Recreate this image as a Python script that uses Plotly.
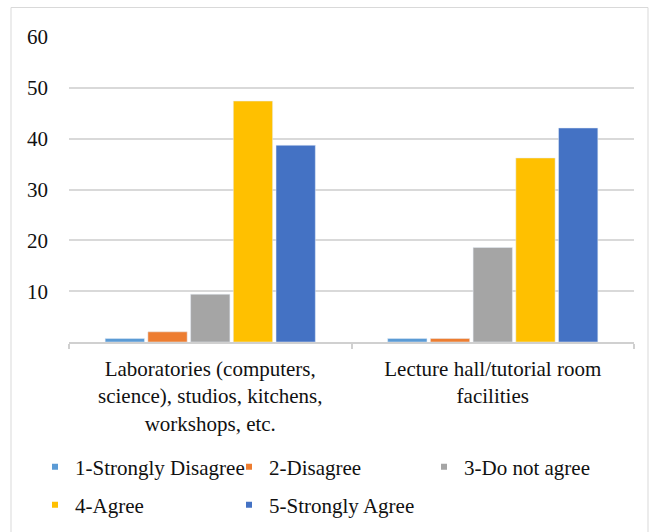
import plotly.graph_objects as go

# Survey responses (%) by facility type
categories = [
    "Laboratories (computers,<br>science), studios, kitchens,<br>workshops, etc.",
    "Lecture hall/tutorial room<br>facilities",
]
series_names = ["1-Strongly Disagree", "2-Disagree", "3-Do not agree", "4-Agree", "5-Strongly Agree"]
strongly_disagree = [0.7, 0.7]
disagree = [2.0, 0.7]
do_not_agree = [9.4, 18.6]
agree = [47.4, 36.2]
strongly_agree = [38.7, 42.1]
colors = ["#5B9BD5", "#ED7D31", "#A5A5A5", "#FFC000", "#4472C4"]
y_ticks = [10, 20, 30, 40, 50, 60]

values = [strongly_disagree, disagree, do_not_agree, agree, strongly_agree]

W, H = 651, 532
L, R, T, B = 69, 17, 37, 190
pw, ph = W - L - R, H - T - B

FONT = "Liberation Serif"
FS = 21
TXT = "#111111"

def px_x(p):
    return (p - L) / pw

def px_y(p):
    return (T + ph - p) / ph

# legend rows/columns: (legend id, left pixel, row centre pixel)
legend_slots = [("legend", 35, 467), ("legend", 35, 467), ("legend2", 424, 467),
                ("legend3", 35, 505), ("legend3", 35, 505)]

fig = go.Figure()
for name, vals, col in zip(series_names, values, colors):
    fig.add_trace(go.Bar(x=categories, y=vals, name=name, marker_color=col,
                         showlegend=False))

# Legend entries with small square swatches
for (name, col), (lg, _, _) in zip(zip(series_names, colors), legend_slots):
    fig.add_trace(go.Scatter(x=[None], y=[None], mode="markers", name=name,
                             marker=dict(symbol="square", size=6, color=col),
                             legend=lg))

legend_common = dict(orientation="h", entrywidth=149, entrywidthmode="pixels",
                     font=dict(family=FONT, size=FS, color=TXT),
                     bgcolor="rgba(0,0,0,0)", xanchor="left", yanchor="middle",
                     itemwidth=30, tracegroupgap=0)
legends = {}
for lg, lx, ly in legend_slots:
    legends[lg] = dict(x=px_x(lx), y=px_y(ly), **legend_common)

fig.update_layout(
    width=W, height=H,
    margin=dict(l=L, r=R, t=T, b=B, autoexpand=False),
    paper_bgcolor="white", plot_bgcolor="white",
    barmode="group", bargap=0.244, bargroupgap=0.08,
    font=dict(family=FONT, size=FS, color=TXT),
    xaxis=dict(showline=True, linecolor="#d0d0d0", linewidth=1.5,
               ticks="outside", tickson="boundaries", ticklen=5,
               tickcolor="#d0d0d0", tickwidth=1.5, tickangle=0,
               ticklabelstandoff=7,
               tickfont=dict(family=FONT, size=FS, color=TXT)),
    yaxis=dict(range=[0, 60], tickvals=y_ticks, showgrid=True,
               gridcolor="#d9d9d9", gridwidth=1.5, zeroline=False,
               showline=False, ticks="", ticklabelstandoff=20,
               tickfont=dict(family=FONT, size=FS, color=TXT)),
    shapes=[dict(type="rect", xref="paper", yref="paper",
                 x0=px_x(11), x1=px_x(648), y0=px_y(540), y1=px_y(7.5),
                 line=dict(color="#d9d9d9", width=1), layer="below")],
    **legends,
)

fig.write_html("out.html")
